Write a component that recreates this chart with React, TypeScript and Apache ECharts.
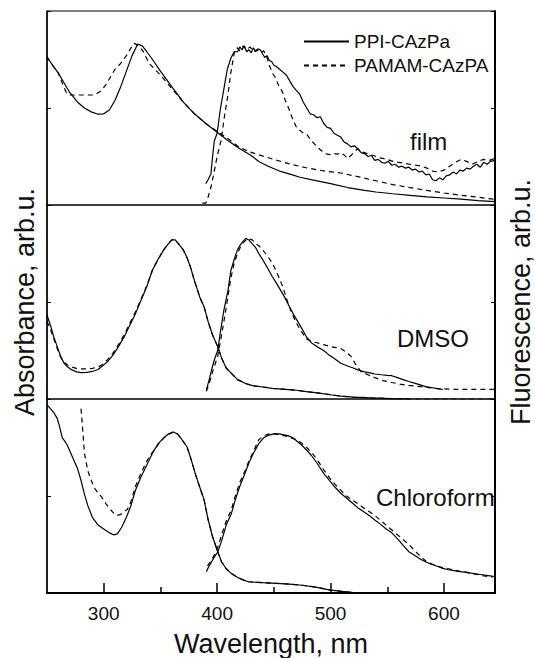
import React, { useEffect, useRef } from "react";
import * as echarts from "echarts";

const X_MIN = 250;
const X_MAX = 645;
const majorTicks = [300, 400, 500, 600];
const minorTicks = [350, 450, 550];
const legendNames = ["PPI-CAzPa", "PAMAM-CAzPA"];
const panelLabels = ["film", "DMSO", "Chloroform"];
const xTitle = "Wavelength, nm";
const leftTitle = "Absorbance, arb.u.";
const rightTitle = "Fluorescence, arb.u.";

// ---- film ----
const filmAbsPPI = [[250,.763],[255,.72],[260,.68],[265,.63],[270,.58],[277,.53],[283,.50],[289,.48],[295,.468],[300,.47],[305,.49],[310,.54],[315,.61],[320,.69],[325,.77],[330,.83],[334,.82],[338,.79],[343,.75],[350,.69],[360,.61],[370,.532],[380,.47],[390,.42],[400,.375],[410,.33],[420,.29],[430,.255],[437,.223],[445,.20],[455,.175],[465,.158],[473,.143],[485,.128],[500,.11],[515,.09],[530,.075],[540,.067],[555,.058],[570,.05],[585,.042],[600,.036],[615,.03],[630,.023],[645,.017]];
const filmAbsPAMAM = [[250,.763],[255,.72],[260,.68],[264,.62],[267,.58],[270,.567],[280,.567],[290,.567],[294,.575],[298,.59],[302,.62],[306,.66],[310,.70],[315,.73],[320,.77],[324,.81],[327,.833],[331,.82],[335,.79],[340,.73],[345,.70],[350,.67],[360,.60],[370,.532],[380,.47],[390,.42],[400,.38],[410,.34],[419,.30],[428,.275],[437,.258],[450,.235],[465,.21],[480,.19],[495,.175],[509,.165],[525,.145],[540,.125],[555,.105],[570,.09],[585,.075],[600,.062],[615,.05],[630,.04],[645,.029]];
const filmFlPPI = [[390,.11],[392,.13],[394.5,.16],[396,.25],[397.5,.33],[400,.37],[403,.50],[406,.60],[409,.70],[412,.755],[415,.79],[418,.79],[420,.815],[422,.80],[424,.82],[426,.79],[428,.80],[430,.785],[432,.81],[434,.79],[436,.805],[438,.80],[440,.78],[442,.76],[444,.77],[446,.745],[448,.74],[450,.72],[452,.715],[455,.70],[458,.685],[461,.67],[464,.64],[467,.61],[470,.59],[473,.57],[476,.53],[479,.50],[482,.47],[485,.465],[488,.45],[491,.455],[494,.42],[497,.40],[500,.395],[503,.37],[506,.36],[509,.35],[512,.325],[515,.315],[518,.30],[521,.305],[524,.29],[527,.27],[530,.265],[533,.25],[536,.255],[539,.23],[542,.235],[545,.22],[548,.215],[551,.225],[554,.205],[557,.21],[560,.195],[563,.20],[566,.19],[569,.195],[572,.18],[575,.185],[578,.17],[581,.175],[584,.155],[587,.16],[590,.13],[593,.125],[596,.14],[599,.13],[602,.15],[605,.155],[608,.17],[611,.16],[614,.18],[617,.175],[620,.19],[623,.185],[626,.20],[629,.21],[632,.195],[635,.22],[638,.21],[641,.225],[645,.23]];
const filmFlPAMAM = [[387,.01],[390,.01],[392,.04],[394.5,.09],[397,.16],[400,.25],[403.6,.335],[406,.44],[409.6,.57],[412,.68],[415.6,.80],[418,.81],[420,.795],[423,.82],[426,.80],[429,.815],[432,.79],[435,.80],[438,.785],[441,.795],[444,.76],[446,.72],[448.7,.68],[451,.66],[454,.62],[457.8,.58],[460,.54],[463,.50],[466.8,.44],[470,.40],[473,.385],[476,.37],[479,.365],[482,.34],[485,.32],[488,.30],[491,.285],[494,.27],[497,.262],[500,.26],[503,.265],[506,.262],[509,.27],[512,.258],[515,.24],[518,.255],[521,.275],[524,.29],[527,.275],[530,.27],[534,.26],[538,.255],[542,.245],[546,.24],[550,.235],[555,.225],[560,.22],[565,.215],[570,.21],[575,.205],[580,.20],[585,.19],[590,.175],[595,.17],[600,.18],[605,.20],[610,.22],[615,.235],[620,.225],[625,.21],[630,.225],[635,.235],[640,.23],[645,.24]];

// ---- DMSO ----
const dmsoAbsPPI = [[250,.433],[253,.38],[256,.32],[259,.27],[262,.22],[265,.185],[268,.166],[272,.15],[276,.14],[280,.136],[285,.137],[290,.142],[295,.152],[298,.166],[303,.19],[308,.225],[313,.27],[318,.32],[323,.38],[328,.44],[333,.51],[338,.58],[343,.665],[348,.72],[353,.77],[357,.80],[360,.82],[363,.82],[366,.80],[370,.77],[373,.735],[376.5,.68],[380,.61],[385,.52],[388.5,.476],[392,.40],[396,.33],[400.5,.27],[404,.21],[408,.16],[412.6,.132],[418,.10],[425,.08],[432,.068],[440,.062],[448.7,.055],[460,.05],[470,.045],[478.8,.038],[490,.03],[500,.022],[509,.015],[520,.01],[535,.006],[554,.002],[570,0]];
const dmsoAbsPAMAM = [[250,.40],[253,.36],[256,.31],[259,.26],[262,.215],[265,.19],[268,.175],[272,.165],[276,.158],[280,.155],[285,.155],[290,.158],[295,.165],[298,.175],[303,.20],[308,.235],[313,.28],[318,.33],[323,.39],[328,.45],[333,.515],[338,.585],[343,.665],[348,.72],[353,.77],[357,.80],[360,.82],[363,.82],[366,.80],[370,.77],[373,.735],[376.5,.68],[380,.61],[385,.52],[388.5,.476],[392,.40],[396,.33],[400.5,.27],[404,.21],[408,.16],[412.6,.132],[418,.10],[425,.08],[432,.068],[440,.062],[448.7,.055],[460,.05],[470,.045],[478.8,.038],[490,.03],[500,.022],[509,.015],[520,.01],[535,.006],[554,.002],[570,0],[645,0]];
const dmsoFlPPI = [[390.5,.046],[393,.10],[396,.17],[398,.21],[400.5,.25],[403,.35],[406,.46],[409.6,.56],[412,.66],[415.6,.73],[418,.77],[421,.80],[425.2,.828],[428,.82],[431,.80],[434,.78],[436.7,.75],[440,.72],[444,.68],[448.7,.63],[452,.60],[456,.56],[460,.52],[463.8,.476],[467,.44],[471,.40],[475,.36],[478.8,.32],[483,.29],[488,.27],[493.9,.25],[498,.23],[503,.21],[509,.184],[515,.17],[520,.16],[524,.15],[530,.14],[535,.135],[539,.129],[545,.125],[550,.122],[554,.12],[559,.11],[564,.10],[569,.09],[574,.082],[579,.073],[584,.064],[590,.058],[595,.052],[599,.05]];
const dmsoFlPAMAM = [[390.5,.04],[393,.08],[396,.14],[400.5,.22],[403,.30],[406,.40],[409.6,.53],[412,.62],[415,.70],[418.6,.76],[422,.80],[427,.828],[431,.82],[434,.80],[436.7,.79],[440,.77],[444,.74],[448.7,.70],[452,.66],[455,.62],[457.8,.58],[461,.52],[464,.47],[466.8,.43],[470,.39],[474,.35],[478.8,.31],[484,.295],[488,.29],[493.9,.28],[500,.27],[505,.265],[509,.26],[514,.24],[518,.22],[522,.18],[527,.14],[533,.125],[539,.11],[546,.095],[554,.085],[561,.077],[569,.07],[577,.065],[584,.06],[592,.055],[599,.052],[610,.05],[620,.05],[632,.05],[645,.05]];

// ---- Chloroform ----
const chlAbsPPI = [[250,.97],[253,.95],[256,.93],[259,.90],[261,.86],[263.5,.80],[266,.78],[268,.76],[271,.72],[274,.68],[277,.64],[280,.58],[283,.51],[286,.45],[290,.39],[295,.35],[300,.33],[305,.31],[308.7,.30],[312,.305],[316,.34],[320,.39],[324,.45],[328,.53],[333,.60],[338,.66],[343,.72],[348,.77],[353,.80],[357,.82],[361.4,.83],[365,.82],[369,.79],[373.4,.754],[377,.69],[381,.61],[385,.54],[388.5,.48],[392,.38],[396,.29],[400.5,.213],[404,.16],[408,.125],[412.6,.10],[418,.08],[424,.065],[427.6,.058],[440,.053],[452,.05],[463.8,.046],[475,.04],[487,.03],[499.9,.015],[510,.008],[524,0],[645,0]];
const chlAbsPAMAM = [[280,.95],[281,.88],[282,.80],[283,.72],[286,.63],[289,.58],[292,.54],[295,.515],[298,.496],[302,.46],[306,.43],[309,.41],[311.7,.40],[315,.405],[318,.42],[320.8,.43],[324,.47],[328,.55],[333,.62],[338,.68],[341,.71],[345,.74],[350,.78],[355,.81],[361.4,.83],[365,.82],[369,.79],[373.4,.754],[377,.69],[381,.61],[385,.54],[388.5,.48],[392,.38],[396,.29],[400.5,.213],[404,.16],[408,.125],[412.6,.10],[418,.08],[424,.065],[427.6,.058],[440,.053],[452,.05],[463.8,.046],[475,.04],[487,.03],[499.9,.015],[510,.008],[524,0]];
const chlFlPPI = [[390.5,.11],[393,.14],[396,.17],[398,.19],[400.5,.21],[404,.27],[408,.35],[412.6,.41],[416,.48],[420,.55],[424.6,.617],[428,.67],[432,.72],[436.7,.77],[441,.80],[445.7,.814],[450,.82],[454.7,.82],[459,.815],[463,.81],[466.8,.80],[471,.78],[475,.76],[478.8,.737],[483,.71],[488,.67],[493.9,.617],[499,.58],[504,.545],[509,.514],[514,.49],[519,.465],[524,.44],[529,.42],[534,.40],[539,.376],[544,.355],[549,.33],[554,.31],[559,.28],[564,.245],[569,.213],[574,.195],[579,.175],[584,.16],[589,.148],[594,.138],[599,.127],[604,.12],[609,.115],[614,.11],[619,.108],[624,.102],[629,.098],[634,.094],[639,.09],[644.5,.085]];
const chlFlPAMAM = [[391.5,.14],[394,.16],[397,.19],[400.5,.235],[404,.30],[408,.37],[412.6,.43],[416,.50],[420,.57],[424.6,.63],[428,.68],[432,.73],[436.7,.79],[441,.81],[445.7,.82],[450,.82],[455,.815],[460,.81],[465,.80],[470,.79],[475,.77],[479,.75],[484,.72],[489,.68],[494,.635],[499,.595],[504,.56],[509,.53],[514,.50],[519,.48],[524,.46],[529,.44],[534,.42],[539,.40],[544,.375],[549,.35],[554,.325],[559,.30],[564,.275],[569,.25],[574,.22],[579,.19],[584,.165],[589,.15],[594,.14],[599,.13],[604,.125],[609,.118],[614,.112],[619,.108],[624,.10],[629,.096],[634,.09],[639,.085],[643,.082]];

const panels = [
  [filmAbsPPI, filmAbsPAMAM, filmFlPPI, filmFlPAMAM],
  [dmsoAbsPPI, dmsoAbsPAMAM, dmsoFlPPI, dmsoFlPAMAM],
  [chlAbsPPI, chlAbsPAMAM, chlFlPPI, chlFlPAMAM],
];

const FONT = '"Liberation Sans", Arial, Helvetica, sans-serif';
const GRID_LEFT = 47;
const GRID_RIGHT = 40;
const GRID_TOPS = [11, 205, 399];
const GRID_H = 194;
const DASH = [5, 4];

export default function App() {
  const ref = useRef<HTMLDivElement>(null);
  useEffect(() => {
    document.body.style.margin = "0";
    if (!ref.current) return;
    const chart = echarts.init(ref.current, null, { renderer: "svg" });

    const grid = GRID_TOPS.map((top) => ({
      left: GRID_LEFT, right: GRID_RIGHT, top, height: GRID_H,
      containLabel: false,
      outerBoundsMode: "none",
      show: true, borderColor: "#000", borderWidth: 1, backgroundColor: "transparent",
    }));

    const xAxis: any[] = GRID_TOPS.map((_, i) => ({
      type: "value", gridIndex: i, min: X_MIN, max: X_MAX,
      show: i === 2,
      splitLine: { show: false },
      axisLine: { show: true, onZero: false, lineStyle: { color: "#000", width: 1.8 } },
      axisTick: { show: true, inside: true, length: 10, customValues: majorTicks, lineStyle: { color: "#000", width: 1.5 } },
      axisLabel: { show: true, customValues: majorTicks, margin: 11, color: "#111", fontSize: 19, fontFamily: FONT },
      name: i === 2 ? xTitle : "",
      nameLocation: "middle", nameGap: 37,
      nameTextStyle: { fontSize: 27, fontFamily: FONT, color: "#111" },
    }));
    xAxis.push({
      type: "value", gridIndex: 2, min: X_MIN, max: X_MAX, position: "bottom",
      splitLine: { show: false },
      axisLine: { show: false },
      axisLabel: { show: false },
      axisTick: { show: true, inside: true, length: 6, customValues: minorTicks, lineStyle: { color: "#000", width: 1.5 } },
    });

    const yAxis: any[] = [];
    GRID_TOPS.forEach((_, i) => {
      ["left", "right"].forEach((pos) => {
        yAxis.push({
          type: "value", gridIndex: i, min: 0, max: 1, interval: 0.5, position: pos,
          splitLine: { show: false },
          axisLine: { show: true, lineStyle: { color: "#000", width: pos === "left" ? 1.5 : 2 } },
          axisTick: { show: true, inside: true, length: 4, lineStyle: { color: "#000", width: 1 } },
          axisLabel: { show: false },
          name: i === 1 ? (pos === "left" ? leftTitle : rightTitle) : "",
          nameLocation: "middle",
          nameGap: pos === "left" ? 9 : 12,
          nameTextStyle: { fontSize: 27, fontFamily: FONT, color: "#111" },
        });
      });
    });

    const series: any[] = [];
    panels.forEach((curves, i) => {
      curves.forEach((data, k) => {
        const isPAMAM = k % 2 === 1;
        series.push({
          type: "line",
          name: legendNames[isPAMAM ? 1 : 0],
          xAxisIndex: i,
          yAxisIndex: i * 2,
          data,
          symbol: "none",
          showSymbol: false,
          silent: true,
          smooth: false,
          lineStyle: { color: "#000", width: 1.2, type: isPAMAM ? DASH : "solid" },
          itemStyle: { color: "#000" },
        });
      });
    });

    const labelPos = [
      { x: 410, y: 141 },
      { x: 397, y: 338 },
      { x: 376, y: 497 },
    ];

    chart.setOption({
      animation: false,
      textStyle: { fontFamily: FONT },
      grid,
      xAxis,
      yAxis,
      legend: {
        data: legendNames,
        orient: "vertical",
        left: 298,
        top: 27,
        itemWidth: 45,
        itemHeight: 12,
        itemGap: 5,
        selectedMode: false,
        itemStyle: { opacity: 0, borderWidth: 0 },
        textStyle: { fontSize: 19, fontFamily: FONT, color: "#111" },
      },
      graphic: panelLabels.map((t, i) => ({
        type: "text",
        x: labelPos[i].x,
        y: labelPos[i].y,
        silent: true,
        style: {
          text: t,
          font: `24px ${FONT}`,
          fill: "#111",
          textAlign: "left",
          textVerticalAlign: "middle",
          verticalAlign: "middle",
        },
      })),
      series,
    });

    return () => chart.dispose();
  }, []);
  return <div ref={ref} style={{ width: 535, height: 658 }} />;
}
